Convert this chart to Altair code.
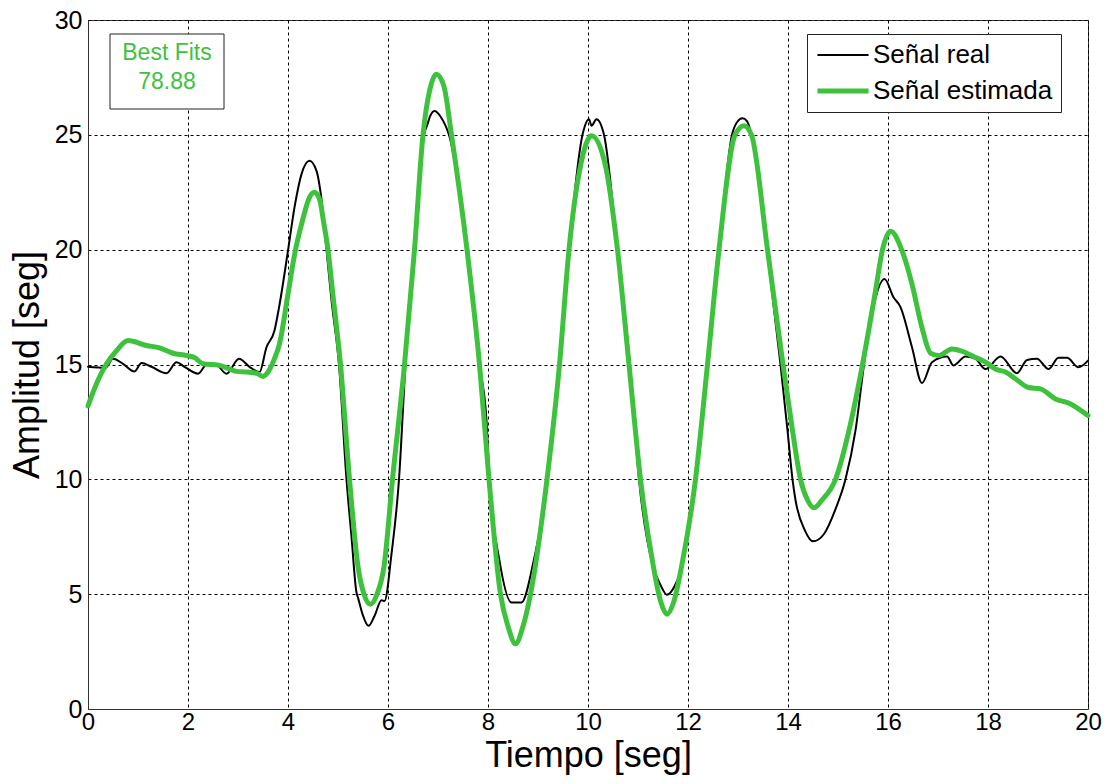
import altair as alt
import pandas as pd

# ---- data ----
series_names = ["Señal real", "Señal estimada"]
series_colors = ["#000000", "#3EC23E"]
series_widths = [2, 5]

t_real = [0.00, 0.35, 0.50, 0.70, 0.93, 1.07, 1.27, 1.57, 1.77, 1.93, 2.20, 2.40, 2.57, 2.77,
          3.02, 3.23, 3.43, 3.57, 3.73, 3.83, 4.00, 4.13, 4.27, 4.43, 4.57, 4.68, 4.77, 4.87,
          5.02, 5.17, 5.27, 5.37, 5.40, 5.49, 5.61, 5.73, 5.87, 5.93, 6.07, 6.22, 6.35, 6.53,
          6.72, 6.79, 6.84, 6.93, 7.05, 7.15, 7.22, 7.58, 7.83, 7.97, 8.03, 8.23, 8.47, 8.67,
          8.90, 9.07, 9.17, 9.43, 9.62, 9.89, 10.02, 10.07, 10.17, 10.32, 10.59, 10.84, 11.02,
          11.29, 11.45, 11.58, 11.72, 11.86, 12.15, 12.39, 12.62, 12.88, 12.98, 13.09, 13.18,
          13.27, 13.58, 13.85, 13.99, 14.09, 14.15, 14.34, 14.50, 14.72, 14.95, 15.15, 15.35,
          15.52, 15.68, 15.93, 16.11, 16.25, 16.48, 16.68, 16.88, 17.18, 17.31, 17.55, 17.75,
          17.95, 18.25, 18.58, 18.78, 18.98, 19.21, 19.41, 19.58, 19.81, 20.00]
y_real = [14.90, 14.85, 15.25, 15.03, 14.70, 15.06, 14.90, 14.62, 15.10, 14.90, 14.60, 15.07, 15.00, 14.60,
          15.25, 14.90, 14.67, 15.75, 16.48, 17.60, 19.96, 21.84, 23.29, 23.87, 23.43, 22.00, 20.00, 17.80,
          15.00, 10.00, 7.50, 5.07, 4.85, 4.13, 3.62, 4.05, 4.74, 4.70, 6.75, 10.00, 15.00, 20.00,
          25.00, 25.46, 25.80, 26.04, 25.80, 25.40, 25.00, 20.00, 15.00, 12.56, 10.00, 6.46, 4.64, 4.64,
          6.31, 8.28, 10.00, 15.00, 20.00, 25.00, 25.68, 25.40, 25.68, 25.00, 20.00, 15.00, 10.00,
          6.30, 5.40, 4.97, 5.30, 6.09, 10.00, 15.00, 20.00, 25.00, 25.55, 25.72, 25.60,
          25.00, 20.00, 15.00, 12.13, 10.00, 9.10, 7.77, 7.30, 7.62, 8.70, 10.00, 12.13,
          15.00, 17.20, 18.72, 17.93, 17.50, 15.75, 14.19, 15.10, 15.35, 14.96, 15.35, 15.25,
          14.80, 15.35, 14.62, 15.20, 15.25, 14.80, 15.29, 15.29, 14.88, 15.17]

t_est = [0.00, 0.17, 0.37, 0.57, 0.80, 1.17, 1.43, 1.70, 1.97, 2.13, 2.30, 2.63, 2.97, 3.17,
         3.37, 3.50, 3.60, 3.72, 3.83, 4.00, 4.15, 4.27, 4.43, 4.53, 4.63, 4.72, 4.80, 4.89,
         5.05, 5.23, 5.40, 5.52, 5.65, 5.78, 5.92, 6.09, 6.33, 6.53, 6.70, 6.84, 6.97, 7.12,
         7.27, 7.58, 7.83, 8.02, 8.25, 8.40, 8.55, 8.70, 8.85, 9.18, 9.43, 9.62, 9.86, 10.07,
         10.34, 10.59, 10.82, 11.05, 11.30, 11.45, 11.58, 11.72, 11.88, 12.15, 12.39, 12.62,
         12.94, 13.12, 13.27, 13.59, 13.90, 14.09, 14.25, 14.39, 14.52, 14.68, 14.95, 15.22,
         15.49, 15.75, 15.89, 16.05, 16.28, 16.48, 16.68, 16.85, 17.01, 17.28, 17.48, 17.71,
         17.95, 18.15, 18.35, 18.55, 18.81, 19.05, 19.35, 19.61, 19.81, 20.00]
y_est = [13.20, 14.16, 15.03, 15.60, 16.04, 15.83, 15.72, 15.49, 15.39, 15.30, 15.03, 14.96, 14.70, 14.67,
         14.62, 14.48, 14.67, 15.20, 15.90, 18.07, 20.00, 21.10, 22.28, 22.50, 22.20, 21.10, 20.00, 18.20,
         15.00, 10.00, 6.20, 5.00, 4.56, 5.00, 6.20, 10.00, 15.00, 20.00, 25.00, 27.00, 27.64, 27.10,
         25.00, 20.00, 15.00, 10.00, 5.00, 3.60, 2.84, 3.60, 5.00, 10.00, 15.00, 20.00, 23.75, 24.96,
         23.75, 20.00, 15.00, 10.00, 6.30, 4.70, 4.13, 4.70, 6.30, 10.00, 15.00, 20.00,
         25.00, 25.40, 25.00, 20.00, 15.00, 12.13, 10.00, 9.10, 8.76, 9.10, 10.00, 12.13,
         15.00, 18.20, 20.00, 20.80, 19.96, 18.50, 16.60, 15.50, 15.39, 15.68, 15.58, 15.35,
         15.10, 14.80, 14.67, 14.38, 14.00, 13.94, 13.50, 13.32, 13.07, 12.78]

x_ticks = list(range(0, 21, 2))
y_ticks = list(range(0, 31, 5))
fit_lines = ["Best Fits", "78.88"]

FONT = "Liberation Sans"

df = pd.concat([
    pd.DataFrame({"t": t_real, "y": y_real, "serie": series_names[0], "ord": range(len(t_real))}),
    pd.DataFrame({"t": t_est, "y": y_est, "serie": series_names[1], "ord": range(len(t_est))}),
], ignore_index=True)

x_enc = alt.X("t:Q", scale=alt.Scale(domain=[0, 20], nice=False),
              axis=alt.Axis(values=x_ticks, title="Tiempo [seg]", grid=True, ticks=False,
                            labelFlush=False, labelPadding=1, labelFontSize=24,
                            titlePadding=4, format="d"))
y_enc = alt.Y("y:Q", scale=alt.Scale(domain=[0, 30], nice=False),
              axis=alt.Axis(values=y_ticks, title="Amplitud [seg]", grid=True, ticks=False,
                            labelFlush=False, labelPadding=6, titlePadding=8, format="d"))

legend = alt.Legend(title=None, orient="none", legendX=719, legendY=14,
                    strokeColor="#222222", fillColor="white", padding=8,
                    labelFont=FONT, labelFontSize=26, labelColor="black",
                    symbolType="M-3,0H3", symbolSize=290, symbolOffset=15, labelOffset=17,
                    rowPadding=10, labelLimit=400)

color_enc = alt.Color("serie:N", scale=alt.Scale(domain=series_names, range=series_colors), legend=legend)
width_enc = alt.StrokeWidth("serie:N", scale=alt.Scale(domain=series_names, range=series_widths), legend=legend)

def line_for(name):
    return alt.Chart(df).transform_filter(alt.datum.serie == name).mark_line(
        interpolate="monotone", strokeCap="round", strokeJoin="round"
    ).encode(x=x_enc, y=y_enc, color=color_enc, strokeWidth=width_enc, order="ord:Q")

real_line = line_for(series_names[0])
est_line = line_for(series_names[1])

fit_box = alt.Chart(pd.DataFrame({"k": [0]})).mark_rect(
    fill="white", stroke="#222222", strokeWidth=1
).encode(x=alt.value(22), x2=alt.value(136), y=alt.value(14), y2=alt.value(89))

fit_text = alt.Chart(pd.DataFrame({"txt": fit_lines, "row": [33, 62]})).mark_text(
    font=FONT, fontSize=23, color=series_colors[1], align="center", baseline="middle"
).encode(x=alt.value(79), y=alt.Y("row:Q", scale=None), text="txt:N")

chart = alt.layer(real_line, est_line, fit_box, fit_text).properties(
    width=1000, height=689,
    autosize=alt.AutoSizeParams(type="none"),
    padding={"left": 88, "top": 20, "right": 21, "bottom": 75},
    background="white",
).configure_view(
    stroke="#333333", strokeWidth=1
).configure_axis(
    labelFont=FONT, labelFontSize=25, labelColor="black",
    titleFont=FONT, titleFontSize=36, titleFontWeight="normal", titleColor="black",
    gridColor="black", gridDash=[3, 3], gridOpacity=1, gridWidth=1,
    domainColor="#333333", domainWidth=1,
)

chart.save("out.html", embed_options={"renderer": "svg", "actions": False})
